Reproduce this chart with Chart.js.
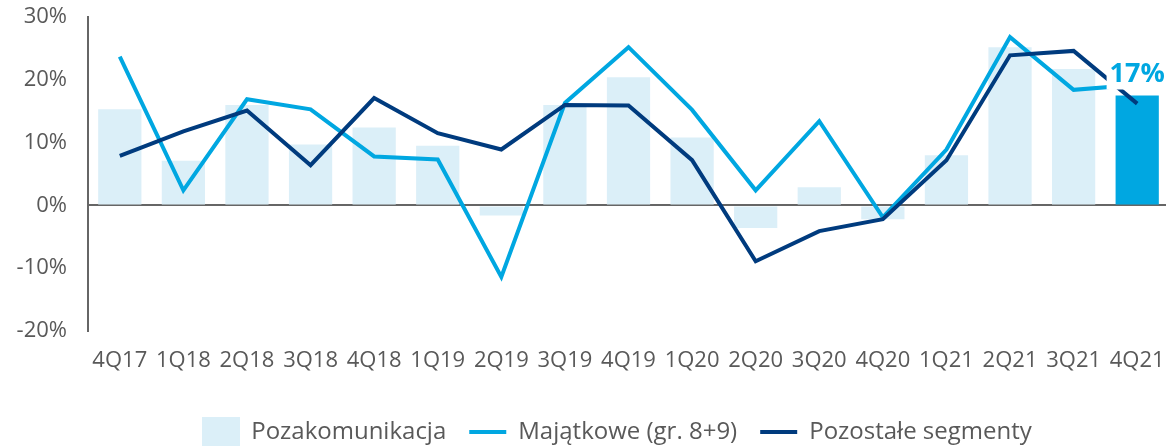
<!DOCTYPE html>
<html>
<head>
<meta charset="utf-8">
<script src="https://cdn.jsdelivr.net/npm/chart.js@4.4.1/dist/chart.umd.min.js"></script>
<style>
html, body { margin: 0; padding: 0; background: #fff; }
#wrap { width: 1166px; height: 446px; overflow: hidden; }
#chart { display: block; }
</style>
</head>
<body>
<div id="wrap"><canvas id="chart" width="1234" height="455"></canvas></div>
<script>
// data (percent)
const quarters = ['4Q17', '1Q18', '2Q18', '3Q18', '4Q18', '1Q19', '2Q19', '3Q19', '4Q19',
                  '1Q20', '2Q20', '3Q20', '4Q20', '1Q21', '2Q21', '3Q21', '4Q21'];
const pozakomunikacja = [15.3, 7.1, 16.0, 9.7, 12.4, 9.5, -1.6, 16.0, 20.4, 10.8, -3.6, 2.9, -2.2, 8.0, 25.2, 21.7, 17.5];
const majatkowe = [23.7, 2.4, 16.9, 15.3, 7.8, 7.3, -11.4, 16.3, 25.2, 15.2, 2.4, 13.4, -1.9, 8.9, 26.8, 18.4, 19.2];
const pozostale = [7.9, 11.8, 15.1, 6.4, 17.1, 11.5, 8.9, 16.0, 15.9, 7.2, -8.9, -4.1, -2.2, 7.2, 23.9, 24.6, 16.2];
const seriesNames = ['Pozakomunikacja', 'Majątkowe (gr. 8+9)', 'Pozostałe segmenty'];
const yTicks = [-20, -10, 0, 10, 20, 30];
const highlightLabel = '17%';

const lightBar = '#dbeff8';
const brightBlue = '#00a7e1';
const navy = '#003b7e';
const textGrey = '#595959';
const axisGrey = '#666666';

Chart.defaults.font.family = '"Open Sans", "Noto Sans", sans-serif';
Chart.defaults.color = textGrey;

// legend swatch for the bar series
const swatch = document.createElement('canvas');
swatch.width = 38;
swatch.height = 30;
const sctx = swatch.getContext('2d');
sctx.fillStyle = lightBar;
sctx.fillRect(0, 0, 38, 30);

const barColors = pozakomunikacja.map((v, i) => i === pozakomunikacja.length - 1 ? brightBlue : lightBar);

// "17%" callout above the last bar, on a white patch
const lastBarLabel = {
    id: 'lastBarLabel',
    afterDatasetsDraw(chart) {
        const meta = chart.getDatasetMeta(0);
        const bar = meta.data[meta.data.length - 1];
        const ctx = chart.ctx;
        ctx.save();
        ctx.font = 'bold 27px "Open Sans"';
        const w = ctx.measureText(highlightLabel).width;
        const cx = bar.x;
        const cy = bar.y - 22;
        ctx.fillStyle = '#ffffff';
        ctx.fillRect(cx - w / 2 - 3, cy - 17, w + 6, 33);
        ctx.fillStyle = brightBlue;
        ctx.textAlign = 'center';
        ctx.textBaseline = 'middle';
        ctx.fillText(highlightLabel, cx, cy + 1);
        ctx.restore();
    }
};

new Chart(document.getElementById('chart'), {
    type: 'bar',
    data: {
        labels: quarters,
        datasets: [
            {
                type: 'bar',
                label: seriesNames[0],
                data: pozakomunikacja,
                backgroundColor: barColors,
                borderWidth: 0,
                categoryPercentage: 0.68,
                barPercentage: 1,
                order: 3
            },
            {
                type: 'line',
                label: seriesNames[1],
                data: majatkowe,
                borderColor: brightBlue,
                backgroundColor: brightBlue,
                borderWidth: 4,
                pointRadius: 0,
                pointBorderWidth: 4,
                tension: 0,
                order: 2
            },
            {
                type: 'line',
                label: seriesNames[2],
                data: pozostale,
                borderColor: navy,
                backgroundColor: navy,
                borderWidth: 4,
                pointRadius: 0,
                pointBorderWidth: 4,
                tension: 0,
                order: 1
            }
        ]
    },
    options: {
        responsive: false,
        animation: false,
        layout: { padding: { top: 17, right: 0, left: 0, bottom: 1 } },
        plugins: {
            tooltip: { enabled: false },
            legend: {
                position: 'bottom',
                labels: {
                    usePointStyle: true,
                    pointStyleWidth: 37,
                    padding: 23,
                    color: textGrey,
                    font: { size: 24 },
                    generateLabels(chart) {
                        const items = Chart.defaults.plugins.legend.labels.generateLabels(chart);
                        items.forEach(item => {
                            if (item.datasetIndex === 0) {
                                item.pointStyle = swatch;
                            } else {
                                item.pointStyle = 'line';
                                item.lineWidth = 4;
                                item.strokeStyle = item.datasetIndex === 1 ? brightBlue : navy;
                            }
                        });
                        return items.sort((a, b) => a.datasetIndex - b.datasetIndex);
                    }
                }
            }
        },
        scales: {
            x: {
                grid: { display: false },
                border: { display: false },
                ticks: { color: textGrey, font: { size: 22 }, padding: 9, maxRotation: 0, autoSkip: false },
                afterFit(scale) {
                    scale.height = 66;
                    // plot ends past the visible edge, legend keeps the full width
                    scale.paddingRight = 65;
                }
            },
            y: {
                min: -20,
                max: 30,
                afterBuildTicks(scale) { scale.ticks = yTicks.map(v => ({ value: v })); },
                ticks: {
                    color: textGrey,
                    font: { size: 22 },
                    padding: 21,
                    callback: v => v + '%'
                },
                grid: {
                    drawTicks: false,
                    lineWidth: 2,
                    color: ctx => ctx.tick && ctx.tick.value === 0 ? axisGrey : 'rgba(0,0,0,0)'
                },
                border: { display: true, color: axisGrey, width: 2 },
                afterFit(scale) {
                    scale.width = 88;
                    scale.paddingTop = 0;
                }
            }
        }
    },
    plugins: [lastBarLabel]
});
</script>
</body>
</html>
